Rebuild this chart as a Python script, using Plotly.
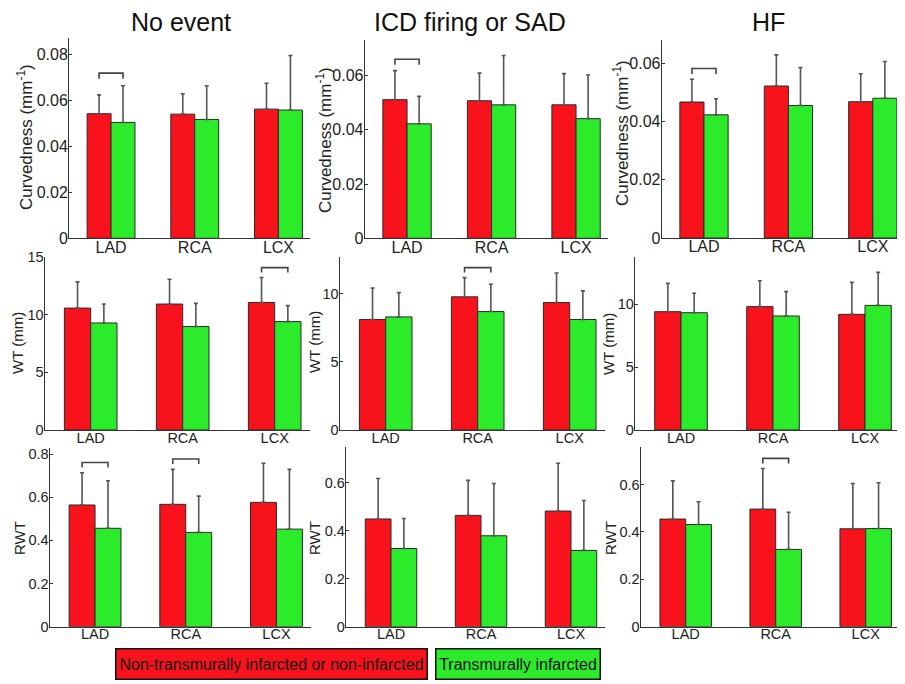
import plotly.graph_objects as go

# ---------------- data ----------------
categories = ["LAD", "RCA", "LCX"]
group_titles = ["No event", "ICD firing or SAD", "HF"]
row_titles = ["Curvedness (mm<sup>-1</sup>)", "WT (mm)", "RWT"]
legend_labels = ["Non-transmurally infarcted or non-infarcted", "Transmurally infarcted"]

# Curvedness (mm^-1)
curv_noevent_red = [0.0543, 0.0541, 0.0563]
curv_noevent_red_sd = [0.0082, 0.0089, 0.0113]
curv_noevent_green = [0.0505, 0.0518, 0.0559]
curv_noevent_green_sd = [0.0160, 0.0147, 0.0238]

curv_icd_red = [0.0511, 0.0507, 0.0492]
curv_icd_red_sd = [0.0107, 0.0102, 0.0115]
curv_icd_green = [0.0422, 0.0492, 0.0441]
curv_icd_green_sd = [0.0101, 0.0182, 0.0161]

curv_hf_red = [0.0467, 0.0522, 0.0468]
curv_hf_red_sd = [0.0078, 0.0107, 0.0096]
curv_hf_green = [0.0423, 0.0455, 0.0480]
curv_hf_green_sd = [0.0055, 0.0130, 0.0126]

# WT (mm)
wt_noevent_red = [10.57, 10.92, 11.06]
wt_noevent_red_sd = [2.27, 2.15, 2.16]
wt_noevent_green = [9.28, 8.97, 9.40]
wt_noevent_green_sd = [1.64, 2.01, 1.38]

wt_icd_red = [8.10, 9.76, 9.34]
wt_icd_red_sd = [2.31, 1.41, 2.17]
wt_icd_green = [8.29, 8.68, 8.10]
wt_icd_green_sd = [1.78, 2.00, 2.10]

wt_hf_red = [9.39, 9.79, 9.18]
wt_hf_red_sd = [2.25, 2.06, 2.54]
wt_hf_green = [9.31, 9.05, 9.89]
wt_hf_green_sd = [1.54, 1.93, 2.62]

# RWT
rwt_noevent_red = [0.564, 0.567, 0.576]
rwt_noevent_red_sd = [0.149, 0.162, 0.181]
rwt_noevent_green = [0.456, 0.437, 0.452]
rwt_noevent_green_sd = [0.220, 0.168, 0.277]

rwt_icd_red = [0.449, 0.464, 0.482]
rwt_icd_red_sd = [0.169, 0.146, 0.199]
rwt_icd_green = [0.326, 0.379, 0.318]
rwt_icd_green_sd = [0.125, 0.218, 0.208]

rwt_hf_red = [0.454, 0.496, 0.413]
rwt_hf_red_sd = [0.161, 0.171, 0.191]
rwt_hf_green = [0.431, 0.326, 0.414]
rwt_hf_green_sd = [0.096, 0.157, 0.193]

# significance brackets: (panel number 1..9, category, height)
brackets = [
    (1, "LAD", 0.0720),
    (2, "LAD", 0.0660),
    (3, "LAD", 0.0582),
    (4, "LCX", 14.08),
    (5, "RCA", 11.90),
    (7, "LAD", 0.761),
    (7, "RCA", 0.777),
    (9, "RCA", 0.710),
]

panels_data = [
    (curv_noevent_red, curv_noevent_red_sd, curv_noevent_green, curv_noevent_green_sd),
    (curv_icd_red, curv_icd_red_sd, curv_icd_green, curv_icd_green_sd),
    (curv_hf_red, curv_hf_red_sd, curv_hf_green, curv_hf_green_sd),
    (wt_noevent_red, wt_noevent_red_sd, wt_noevent_green, wt_noevent_green_sd),
    (wt_icd_red, wt_icd_red_sd, wt_icd_green, wt_icd_green_sd),
    (wt_hf_red, wt_hf_red_sd, wt_hf_green, wt_hf_green_sd),
    (rwt_noevent_red, rwt_noevent_red_sd, rwt_noevent_green, rwt_noevent_green_sd),
    (rwt_icd_red, rwt_icd_red_sd, rwt_icd_green, rwt_icd_green_sd),
    (rwt_hf_red, rwt_hf_red_sd, rwt_hf_green, rwt_hf_green_sd),
]

# ---------------- layout / style ----------------
OFF = 8                      # page body margin of the browser
W, H = 905 - OFF, 684 - OFF  # figure fits inside the window
RED = "#F8121C"
GREEN = "#2BEB2B"
FONT = "Liberation Sans, Arial, Helvetica, sans-serif"
AX = "#333333"


def px_x(x):
    return (x - OFF) / W


def px_y(y):
    return 1 - (y - OFF) / H


# pixel geometry per panel (screen coords): left (x=0.5), px per category, top, bottom
geom = [
    (69.2, 83.7, 38, 238.3), (364.8, 84.5, 40, 238.3), (661.8, 84.4, 40, 238),
    (44.7, 92, 257, 430), (339.7, 92, 257, 430), (635, 92, 257, 430),
    (49.7, 90.7, 448, 626.7), (346, 90, 447, 626.7), (640.7, 90, 447, 626.7),
]
ytitle_pos = [(25, 137), (324, 140), (621, 133),
              (17, 343), (314, 342), (608, 344),
              (19, 538), (314, 538), (610, 538)]
y_max = [0.0873, 0.0731, 0.068, 15.0, 12.68, 13.73, 0.828, 0.749, 0.758]
y_dtick = [0.02, 0.02, 0.02, 5, 5, 5, 0.2, 0.2, 0.2]
XR = [0.5, 3.38]
BW = 0.286

fig = go.Figure()
xpos = [1, 2, 3]

for k in range(9):
    n = k + 1
    xa = "x" if n == 1 else f"x{n}"
    ya = "y" if n == 1 else f"y{n}"
    red, red_sd, green, green_sd = panels_data[k]
    for vals, sd, col, off in [(red, red_sd, RED, -BW), (green, green_sd, GREEN, 0.0)]:
        fig.add_trace(go.Bar(
            x=xpos, y=vals, width=BW, offset=off,
            marker=dict(color=col, line=dict(color="#2a2a2a", width=1)),
            error_y=dict(type="data", symmetric=False, array=sd, arrayminus=[0] * len(sd),
                         color="#555555", thickness=1.6, width=2),
            xaxis=xa, yaxis=ya, showlegend=False, hoverinfo="skip",
        ))

    L, s, top, bot = geom[k]
    row = k // 3
    tick_size = 16 if row == 0 else 14.5
    title_size = 17 if row == 0 else 15
    xkey = "xaxis" if n == 1 else f"xaxis{n}"
    ykey = "yaxis" if n == 1 else f"yaxis{n}"
    fig.layout[xkey] = dict(
        domain=[px_x(L), px_x(L + (XR[1] - XR[0]) * s)], range=XR, anchor=ya,
        tickmode="array", tickvals=xpos, ticktext=categories,
        showline=True, linecolor=AX, linewidth=1.3, ticks="", showgrid=False,
        zeroline=False, tickfont=dict(family=FONT, size=tick_size, color="#222"),
        ticklabelstandoff=-6, fixedrange=True, automargin=False,
    )
    fig.layout[ykey] = dict(
        domain=[px_y(bot), px_y(top)], range=[0, y_max[k]], anchor=xa,
        dtick=y_dtick[k], tick0=0, showline=True, linecolor=AX, linewidth=1.3,
        ticks="inside", ticklen=3, tickcolor=AX, showgrid=False, zeroline=False,
        tickfont=dict(family=FONT, size=tick_size, color="#222"),
        ticklabelstandoff=-3, fixedrange=True, automargin=False,
    )
    tx, ty = ytitle_pos[k]
    fig.add_annotation(text=row_titles[row], x=px_x(tx), y=px_y(ty), xref="paper", yref="paper",
                       showarrow=False, textangle=-90, xanchor="center", yanchor="middle",
                       font=dict(family=FONT, size=title_size, color="#222"))

# significance brackets
for n, cat, h in brackets:
    xa = "x" if n == 1 else f"x{n}"
    ya = "y" if n == 1 else f"y{n}"
    c = categories.index(cat) + 1
    drop = 0.028 * y_max[n - 1]
    fig.add_trace(go.Scatter(
        x=[c - BW / 2, c - BW / 2, c + BW / 2, c + BW / 2],
        y=[h - drop, h, h, h - drop], mode="lines",
        line=dict(color="#444444", width=1.6), xaxis=xa, yaxis=ya,
        showlegend=False, hoverinfo="skip",
    ))

# column titles
title_x = [180.5, 470, 768]
for t, xc in zip(group_titles, title_x):
    fig.add_annotation(text=t, x=px_x(xc), y=px_y(22), xref="paper", yref="paper",
                       showarrow=False, xanchor="center", yanchor="middle",
                       font=dict(family=FONT, size=25, color="#111"))

# legend boxes
leg_boxes = [(115, 428, RED), (435, 601, GREEN)]
for lab, (x0, x1, col) in zip(legend_labels, leg_boxes):
    fig.add_annotation(text=lab, x=px_x((x0 + x1) / 2), y=px_y(664), xref="paper", yref="paper",
                       showarrow=False, xanchor="center", yanchor="middle",
                       bgcolor=col, bordercolor="#111", borderwidth=1.5, borderpad=2,
                       width=x1 - x0 - 7, height=25,
                       font=dict(family=FONT, size=16, color="#111"))

fig.update_layout(
    width=W, height=H, margin=dict(l=0, r=0, t=0, b=0),
    paper_bgcolor="white", plot_bgcolor="white", showlegend=False,
    font=dict(family=FONT, color="#222"),
)

fig.write_html("out.html")
